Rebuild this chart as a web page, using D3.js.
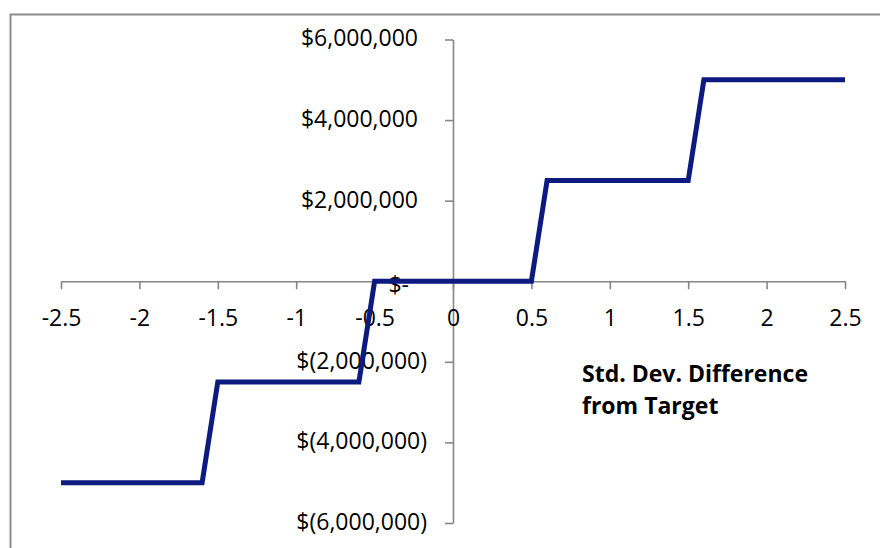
<!DOCTYPE html>
<html>
<head>
<meta charset="utf-8">
<script src="https://cdn.jsdelivr.net/npm/d3@7"></script>
<style>
  html, body { margin: 0; padding: 0; background: #fff; }
  svg { display: block; font-family: "Open Sans", sans-serif; }
</style>
</head>
<body>
<div id="chart"></div>
<script>
// step payoff by std. dev. difference from target
var stdDiff = [-2.5, -1.6, -1.5, -0.6, -0.5, 0.5, 0.6, 1.5, 1.6, 2.5];
var payoff  = [-5000000, -5000000, -2500000, -2500000, 0, 0, 2500000, 2500000, 5000000, 5000000];
var xTicks  = [-2.5, -2, -1.5, -1, -0.5, 0, 0.5, 1, 1.5, 2, 2.5];
var yTicks  = [-6000000, -4000000, -2000000, 0, 2000000, 4000000, 6000000];
var titleLines = ["Std. Dev. Difference", "from Target"];

var width = 880, height = 548;

var svg = d3.select('#chart')
    .append('svg')
    .attr('width', width)
    .attr('height', height);

// chart frame, runs past the right and bottom edges
svg.append('rect')
    .attr('x', 10.5).attr('y', 14.5)
    .attr('width', 950).attr('height', 650)
    .attr('fill', 'none')
    .attr('stroke', '#8c8c8c')
    .attr('stroke-width', 2);

var x = d3.scaleLinear().domain([-2.5, 2.5]).range([61, 845]);
var y = d3.scaleLinear().domain([-6000000, 6000000]).range([523, 39.5]);

function money(v) {
    if (v === 0) return '$-';
    var s = d3.format(',')(Math.abs(v));
    return v < 0 ? '$(' + s + ')' : '$' + s;
}

// y axis through x = 0
var yAxis = svg.append('g')
    .attr('transform', `translate(${x(0)},0)`)
    .call(d3.axisLeft(y).tickValues(yTicks).tickSize(8).tickSizeOuter(0).tickFormat(money));

yAxis.select('.domain').attr('stroke', '#868686').attr('stroke-width', 1.6);
yAxis.selectAll('.tick line').attr('stroke', '#868686').attr('stroke-width', 1.6);
yAxis.selectAll('.tick text')
    .attr('fill', '#000')
    .style('font-size', '23px')
    .style('font-family', '"Open Sans", sans-serif')
    .attr('x', d => d < 0 ? -26 : (d === 0 ? -44 : -35))
    .attr('dy', d => d === 0 ? '0.5em' : '0.28em');

// x axis through y = 0
var xAxis = svg.append('g')
    .attr('transform', `translate(0,${y(0)})`)
    .call(d3.axisBottom(x).tickValues(xTicks).tickSize(8).tickSizeOuter(0).tickFormat(d3.format('')));

xAxis.select('.domain').attr('stroke', '#868686').attr('stroke-width', 1.6);
xAxis.selectAll('.tick line').attr('stroke', '#868686').attr('stroke-width', 1.6);
xAxis.selectAll('.tick text')
    .attr('fill', '#000')
    .style('font-size', '23px')
    .style('font-family', '"Open Sans", sans-serif')
    .text(d => d < 0 ? '-' + Math.abs(d) : String(d))
    .attr('y', 28);

// payoff line
var line = d3.line()
    .x((d, i) => x(stdDiff[i]))
    .y(d => y(d));

svg.append('path')
    .datum(payoff)
    .attr('d', line)
    .attr('fill', 'none')
    .attr('stroke', '#0d1a7f')
    .attr('stroke-width', 5)
    .attr('stroke-linejoin', 'miter');

// axis title
svg.append('text')
    .attr('x', 582)
    .attr('y', 382)
    .style('font-size', '23px')
    .style('font-weight', 'bold')
    .attr('fill', '#000')
    .selectAll('tspan')
    .data(titleLines)
    .enter()
    .append('tspan')
    .attr('x', 582)
    .attr('dy', (d, i) => i === 0 ? 0 : 32)
    .text(d => d);
</script>
</body>
</html>
